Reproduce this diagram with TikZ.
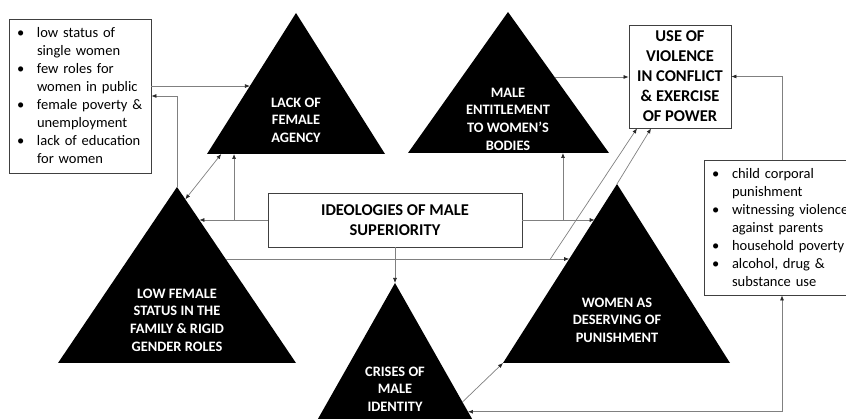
\documentclass[tikz,border=0pt]{standalone}
\usepackage{fontspec}
\setmainfont{Carlito}
\usepackage{tikz}
\usetikzlibrary{arrows.meta,calc}
\tikzstyle{tri}=[fill=black]
\tikzstyle{tritxt}=[text=white, align=center, font=\bfseries\fontsize{14.4pt}{17.6pt}\selectfont]
\tikzstyle{bigbox}=[draw=black!75, line width=0.8pt, align=center, inner sep=2pt,
font=\bfseries\fontsize{16.5pt}{20pt}\selectfont]
\tikzstyle{listbox}=[draw=black!75, line width=0.8pt, align=left, inner xsep=8pt,
font=\fontsize{14.5pt}{18pt}\selectfont]
\tikzstyle{conn}=[-{Latex[length=5pt,width=4pt,color=black!85]}, draw=black!50, line width=0.7pt]
\tikzstyle{dconn}=[conn, {Latex[length=5pt,width=4pt,color=black!85]}-{Latex[length=5pt,width=4pt,color=black!85]}]
\newcommand{\bl}{\makebox[20pt][l]{\textbullet}}
\newcommand{\ind}{\hspace*{20pt}}

\begin{document}
\begin{tikzpicture}[x=1pt,y=-1pt]
\useasboundingbox (0,0) rectangle (846,419);
% triangles
\coordinate (lackA) at (296,13); \coordinate (lackL) at (207,154); \coordinate (lackR) at (385,154);
\coordinate (entA) at (508,12); \coordinate (entL) at (408,153); \coordinate (entR) at (609,153);
\coordinate (lowA) at (177,187); \coordinate (lowL) at (58,363); \coordinate (lowR) at (296,363);
\coordinate (punA) at (617,184); \coordinate (punL) at (503,363); \coordinate (punR) at (730,363);
\coordinate (criA) at (395,283); \coordinate (criL) at (306,440); \coordinate (criR) at (484,440);
\fill[tri] (lackA) -- (lackL) -- (lackR) -- cycle;
\fill[tri] (entA) -- (entL) -- (entR) -- cycle;
\fill[tri] (lowA) -- (lowL) -- (lowR) -- cycle;
\fill[tri] (punA) -- (punL) -- (punR) -- cycle;
\fill[tri] (criA) -- (criL) -- (criR) -- cycle;
\node[tritxt] (lack) at (296,120) {LACK OF\\FEMALE\\AGENCY};
\node[tritxt] (ent) at (508,119) {MALE\\ENTITLEMENT\\TO WOMEN’S\\BODIES};
\node[tritxt] (low) at (177,320) {LOW FEMALE\\STATUS IN THE\\FAMILY \& RIGID\\GENDER ROLES};
\node[tritxt] (pun) at (617,320) {WOMEN AS\\DESERVING OF\\PUNISHMENT};
\node[tritxt] (cri) at (395,389) {CRISES OF\\MALE\\IDENTITY};
% boxes
\node[listbox, minimum width=142, minimum height=154, text width=126] (causes) at (80,96)
{\bl low status of\\\ind single women\\\bl few roles for\\\ind women in public\\\bl female poverty \&\\\ind unemployment\\\bl lack of education\\\ind for women};
\node[listbox, minimum width=156, minimum height=135, text width=140] (risks) at (782,227.5)
{\bl child corporal\\\ind punishment\\\bl \mbox{witnessing violence}\\\ind against parents\\\bl household poverty\\\bl alcohol, drug \&\\\ind substance use};
\node[bigbox, minimum width=102, minimum height=103] (violence) at (680,76.5)
{USE OF\\VIOLENCE\\IN CONFLICT\\\& EXERCISE\\OF POWER};
\node[bigbox, minimum width=254, minimum height=54] (ideol) at (395,220)
{IDEOLOGIES OF MALE\\SUPERIORITY};
% points on the triangle edges
\coordinate (lackIn) at ($(lackA)!0.518!(lackL)$);
\coordinate (lackB) at ($(lackL)!0.152!(lackR)$);
\coordinate (lowIn) at ($(lowA)!0.188!(lowR)$);
\coordinate (lowOut) at ($(lowA)!0.409!(lowR)$);
\coordinate (entB) at ($(entL)!0.771!(entR)$);
\coordinate (entOut) at ($(entA)!0.461!(entR)$);
\coordinate (punIn) at ($(punA)!0.196!(punL)$);
\coordinate (punLow) at ($(punA)!0.419!(punL)$);
\coordinate (criIn) at ($(criA)!0.82!(criR)$);
\coordinate (criOut) at ($(criA)!0.758!(criR)$);
\coordinate (fork) at ($(lowOut)!0.945!(punLow)$);
% connectors
\draw[conn] (causes.east |- lackIn) -- (lackIn);
\draw[conn] (lowA) |- (causes.east);
\draw[dconn] ($(lowA)!0.07!(lowR)$) -- ($(lackL)!0.08!(lackR)$);
\draw[conn] (ideol.west) -- (lowIn |- ideol.west);
\draw[conn] (lackB |- ideol.west) -- (lackB);
\draw[conn] (ideol.east) -- (punIn |- ideol.east);
\draw[conn] (entB |- ideol.east) -- (entB);
\draw[conn] (lowOut) -- (punLow |- lowOut);
\draw[conn] (fork) -- ($(violence.south)+(-43,0)$);
\draw[conn] (punA) -- ($(violence.south)+(-29,0)$);
\draw[conn] (entOut) -- (violence.west |- entOut);
\draw[conn] (risks.north) |- (violence.east);
\draw[dconn] (risks.south) |- (criIn);
\draw[conn] (criOut) -- (punL);
\draw[conn] (ideol.south) -- (criA);
\end{tikzpicture}
\end{document}
